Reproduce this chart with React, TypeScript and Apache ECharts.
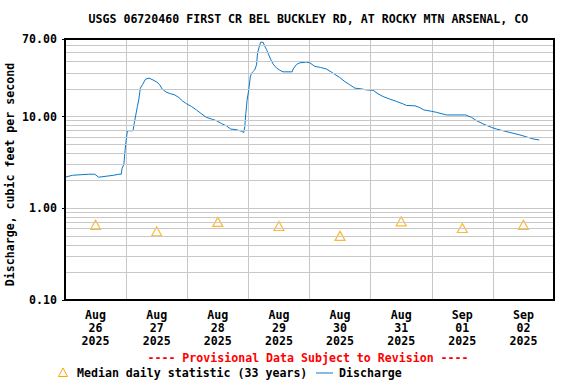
import React, { useEffect, useRef } from "react";
import * as echarts from "echarts";

const TITLE = "USGS 06720460 FIRST CR BEL BUCKLEY RD, AT ROCKY MTN ARSENAL, CO";
const Y_NAME = "Discharge, cubic feet per second";
const PROVISIONAL = "---- Provisional Data Subject to Revision ----";
const LEGEND_MEDIAN = "Median daily statistic (33 years)";
const LEGEND_DISCHARGE = "Discharge";

const dayLabels = [
  "Aug\n26\n2025", "Aug\n27\n2025", "Aug\n28\n2025", "Aug\n29\n2025",
  "Aug\n30\n2025", "Aug\n31\n2025", "Sep\n01\n2025", "Sep\n02\n2025",
];

// hours since 2025-08-26 00:00
const medianHours = [12, 36, 60, 84, 108, 132, 156, 180];
const medianValues = [0.66, 0.56, 0.71, 0.64, 0.5, 0.72, 0.61, 0.66];

const dischargeHours = [
  0.0, 3.0, 9.3, 11.7, 13.2, 19.1, 21.1, 22.1, 22.4, 23.1, 23.6, 24.0, 24.5,
  26.7, 27.1, 27.8, 28.4, 29.0, 29.6, 30.4, 31.6, 33.0, 34.6, 36.1, 37.2, 38.1,
  39.8, 41.5, 43.1, 44.7, 46.1, 47.7, 49.6, 51.6, 53.6, 55.5, 57.5, 59.5, 61.4,
  63.4, 65.1, 67.3, 69.3, 70.2, 70.6, 71.0, 71.5, 72.2, 72.8, 73.6, 74.5, 75.2,
  75.6, 76.2, 76.8, 77.8, 78.4, 79.1, 80.0, 80.7, 81.7, 83.0, 84.3, 85.6, 89.2,
  89.6, 90.9, 92.2, 94.8, 96.1, 98.1, 100.3, 102.7, 104.6, 105.9, 107.9, 109.9,
  111.8, 113.8, 116.4, 118.4, 121.0, 122.9, 124.9, 127.5, 130.2, 132.8, 134.1,
  137.4, 139.3, 140.9, 143.9, 145.9, 149.8, 157.3, 159.6, 161.6, 164.2, 167.5,
  169.5, 172.0, 174.7, 178.6, 181.2, 183.8, 186.2,
];
const dischargeValues = [
  2.18, 2.29, 2.35, 2.35, 2.18, 2.29, 2.35, 2.35, 2.73, 3.0, 4.3, 5.5, 7.0,
  7.0, 8.2, 10.4, 12.8, 15.5, 20.4, 22.2, 25.5, 26.2, 25.0, 23.7, 22.2, 20.0,
  18.4, 17.7, 17.2, 16.1, 14.8, 13.8, 12.9, 11.8, 10.7, 9.8, 9.4, 9.0, 8.4,
  7.9, 7.3, 7.2, 6.9, 6.7, 7.8, 10.8, 15.1, 20.0, 27.7, 30.5, 32.3, 36.6,
  49, 57, 64.5, 64.5, 58.5, 54, 47, 42.3, 37.4, 33.9, 32.0, 30.7, 30.7,
  33.0, 37.0, 38.5, 39.2, 38.5, 35.2, 34.3, 32.9, 30.5, 28.9, 26.6, 24.0,
  22.2, 20.4, 20.0, 19.5, 19.3, 17.7, 16.5, 15.5, 14.6, 13.7, 13.2,
  13.1, 12.5, 11.8, 11.4, 11.1, 10.4, 10.4, 9.8, 9.0, 8.3, 7.6,
  7.3, 7.0, 6.7, 6.3, 6.0, 5.7, 5.55,
];

const yMin = 0.1;
const yMax = 70;
const minorGridValues = [
  0.2, 0.3, 0.4, 0.5, 0.6, 0.7, 0.8, 0.9,
  2, 3, 4, 5, 6, 7, 8, 9,
  20, 30, 40, 50, 60,
];

const FONT = "'DejaVu Sans Mono', 'Liberation Mono', monospace";
const FS = 11.6;
const GRID_COLOR = "#c8c8c8";
const BLUE = "#0a78c8";
const ORANGE = "#ffa500";

export default function App() {
  const ref = useRef<HTMLDivElement>(null);
  useEffect(() => {
    if (!ref.current) return;
    const chart = echarts.init(ref.current, null, { renderer: "svg" });
    const txt = { fontFamily: FONT, fontSize: FS, fontWeight: "bold", color: "#000" };
    chart.setOption({
      animation: false,
      backgroundColor: "#fff",
      grid: {
        left: 65, right: 22, top: 39, bottom: 84,
        containLabel: false, outerBoundsMode: "none",
        show: true, borderColor: "#000", borderWidth: 2, backgroundColor: "transparent",
        z: 10,
      },
      xAxis: [
        {
          type: "value", min: 0, max: 192, interval: 24, position: "top",
          axisLabel: { show: false }, axisLine: { show: false }, axisTick: { show: false },
          splitLine: { show: true, lineStyle: { color: GRID_COLOR, width: 1 } },
        },
        {
          type: "category", data: dayLabels, boundaryGap: true, position: "bottom",
          axisLine: { show: false }, axisTick: { show: false }, splitLine: { show: false },
          axisLabel: { ...txt, margin: 8, lineHeight: 13, interval: 0, align: "center" },
        },
      ],
      yAxis: {
        type: "log", logBase: 10, min: yMin, max: yMax,
        name: Y_NAME, nameLocation: "middle", nameGap: 49, nameRotate: 90,
        nameMoveOverlap: false,
        nameTextStyle: { ...txt, padding: [0, 10, 0, 0] },
        axisLine: { show: true, lineStyle: { color: "#000", width: 1 } },
        axisTick: { show: true, length: 3, lineStyle: { color: "#000" } },
        axisLabel: { ...txt, margin: 8, formatter: (v: number) => Number(v).toFixed(2) },
        splitLine: { show: true, lineStyle: { color: GRID_COLOR, width: 1 } },
      },
      graphic: [
        { type: "text", left: 309.5 - 221, top: 13, style: { text: TITLE, font: `bold ${FS}px ${FONT}`, fill: "#000" } },
        { type: "text", x: 308, y: 358, style: { text: PROVISIONAL, font: `bold ${FS}px ${FONT}`, fill: "#ff0000", align: "center", verticalAlign: "middle" } },
        { type: "polygon", shape: { points: [[63, 368], [58.5, 376.5], [67.5, 376.5]] }, style: { fill: "none", stroke: ORANGE, lineWidth: 1 } },
        { type: "text", x: 77, y: 373, style: { text: LEGEND_MEDIAN, font: `bold ${FS}px ${FONT}`, fill: "#000", verticalAlign: "middle" } },
        { type: "line", shape: { x1: 316, y1: 373, x2: 333, y2: 373 }, style: { stroke: BLUE, lineWidth: 1 } },
        { type: "text", x: 339, y: 373, style: { text: LEGEND_DISCHARGE, font: `bold ${FS}px ${FONT}`, fill: "#000", verticalAlign: "middle" } },
      ],
      series: [
        {
          type: "line", xAxisIndex: 0, data: medianHours.map((h, i) => [h, medianValues[i]]),
          symbol: "none", lineStyle: { opacity: 0 }, silent: true, z: 1,
          markLine: {
            silent: true, symbol: "none", label: { show: false },
            lineStyle: { color: GRID_COLOR, width: 1, type: "solid" },
            data: minorGridValues.map((v) => ({ yAxis: v })),
          },
        },
        {
          type: "line", xAxisIndex: 0, name: LEGEND_DISCHARGE,
          data: dischargeHours.map((h, i) => [h, dischargeValues[i]]),
          symbol: "none", lineStyle: { color: BLUE, width: 1 }, z: 3,
        },
        {
          type: "scatter", xAxisIndex: 0, name: LEGEND_MEDIAN,
          data: medianHours.map((h, i) => [h, medianValues[i]]),
          symbol: "triangle", symbolSize: [10, 9],
          itemStyle: { color: "rgba(255,255,255,0)", borderColor: ORANGE, borderWidth: 1.2 },
          z: 4,
        },
      ],
    });
    return () => chart.dispose();
  }, []);
  return <div ref={ref} style={{ position: "fixed", left: 0, top: 0, width: 576, height: 384 }} />;
}
